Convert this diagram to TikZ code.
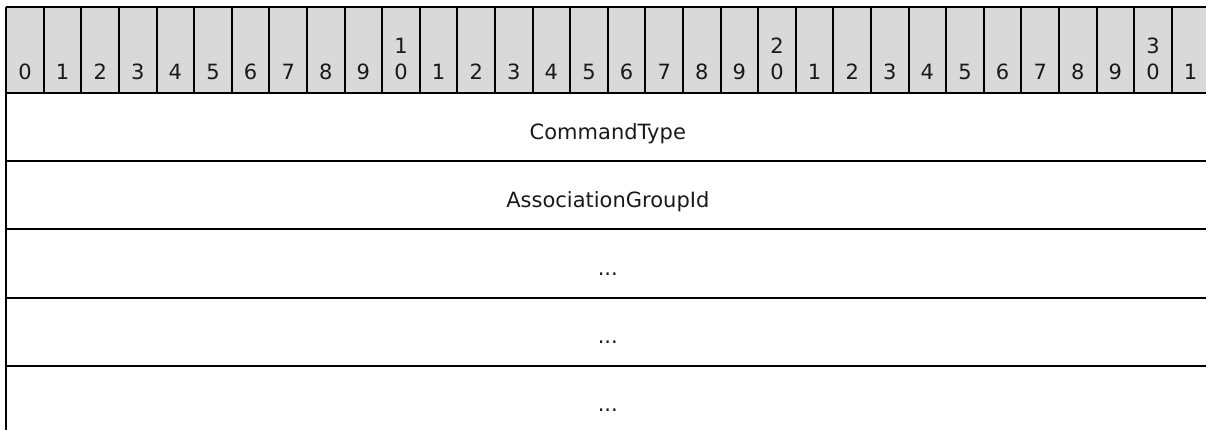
\documentclass[tikz,border=0pt]{standalone}
\usepackage{fontspec}
\setmainfont{DejaVu Sans}
\definecolor{hdrgray}{HTML}{D9D9D9}
\begin{document}
\begin{tikzpicture}[x=1pt,y=-1pt,
  lbl/.style={font=\fontsize{21}{26}\selectfont,anchor=base,inner sep=0pt,text=black!90},
  fld/.style={font=\fontsize{21}{26}\selectfont,anchor=base,inner sep=0pt,text=black!90},
  rule/.style={draw=black,line width=2pt}]
\useasboundingbox (0,0) rectangle (1206,430);
\clip (0,0) rectangle (1206,430);
% header background
\fill[hdrgray] (6.2,6.8) rectangle (1215,93.3);
% header column lines
\foreach \i in {0,...,32} \draw[rule] ({6.2+\i*37.6},6.8) -- ({6.2+\i*37.6},93.3);
% top line
\draw[rule] (6.2,6.8) -- (1215,6.8);
% row lines
\foreach \k in {0,...,4} \draw[rule] (6.2,{93.3+\k*68.1}) -- (1215,{93.3+\k*68.1});
% left border
\draw[rule] (6.2,6.8) -- (6.2,440);
% header digits
\foreach \i in {0,...,31} {
  \pgfmathtruncatemacro{\d}{mod(\i,10)}
  \node[lbl] (h\i) at ({6.2+\i*37.6+18.8},79.5) {\d};
}
\foreach \i/\t in {10/1,20/2,30/3}
  \node[lbl] (ht\i) at ({6.2+\i*37.6+18.8},53.3) {\t};
% field labels
\node[fld] (r1) at (607.8,139.5) {CommandType};
\node[fld] (r2) at (607.8,207.6) {AssociationGroupId};
\node[fld] (r3) at (607.8,275.7) {...};
\node[fld] (r4) at (607.8,343.8) {...};
\node[fld] (r5) at (607.8,411.9) {...};
\end{tikzpicture}
\end{document}
